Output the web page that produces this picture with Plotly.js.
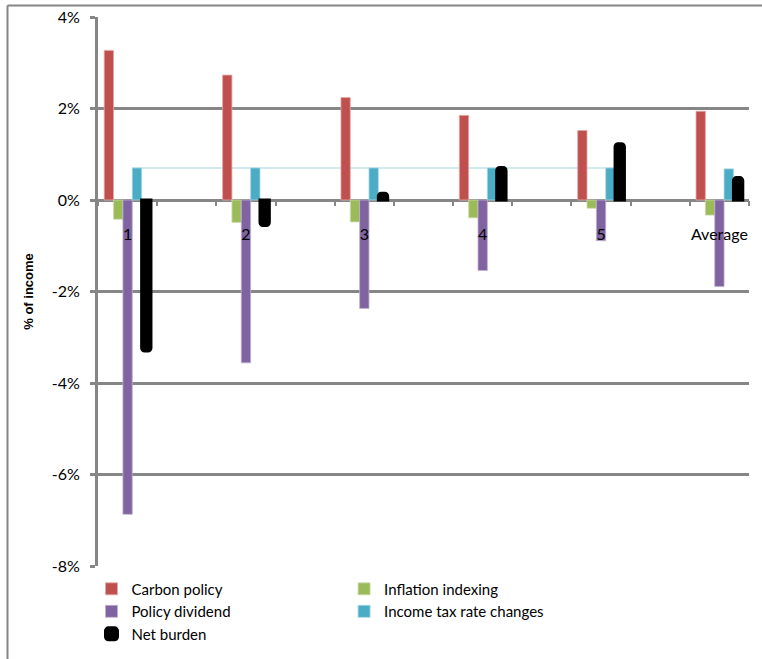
<!DOCTYPE html>
<html>
<head>
<meta charset="utf-8">
<script src="https://cdn.plot.ly/plotly-3.0.1.min.js"></script>
<style>
  html, body { margin: 0; padding: 0; background: #ffffff; }
  #chart { width: 762px; height: 659px; }
</style>
</head>
<body>
<div id="chart"></div>
<script>
// Income quintiles plus the average, each separated by an empty slot on the axis
const groups = ['1', '2', '3', '4', '5', 'Average'];
const slotLabels = ['1', ' ', '2', '  ', '3', '   ', '4', '    ', '5', '     ', 'Average'];

// Change in burden, % of income
const carbonPolicy      = [3.27, 2.73, 2.24, 1.85, 1.52, 1.94];
const inflationIndexing = [-0.42, -0.49, -0.48, -0.39, -0.18, -0.33];
const policyDividend    = [-6.87, -3.56, -2.37, -1.54, -0.89, -1.89];
const incomeTaxChanges  = [0.70, 0.70, 0.70, 0.70, 0.70, 0.68];
const netBurden         = [-3.30, -0.56, 0.15, 0.71, 1.23, 0.49];

const seriesNames = ['Carbon policy', 'Inflation indexing', 'Policy dividend',
                     'Income tax rate changes', 'Net burden'];
const seriesColors = ['#c0504d', '#9bbb59', '#8064a2', '#4bacc6', '#000000'];
const seriesEdges  = ['#e3a9a8', '#cddcab', '#c0b1d1', '#a5d5e2', '#000000'];
// legend column for each series (two columns under the plot)
const seriesLegend = ['legend', 'legend2', 'legend', 'legend2', 'legend'];

const yTickVals = [-8, -6, -4, -2, 0, 2, 4];
const yTickText = yTickVals.map(v => String(v) + '%');
const yRange = [-8, 4];

const FONT = 'Lato, "Open Sans", sans-serif';
const GRID = '#868686';
const BARGAP = 0.21;

const seriesValues = [carbonPolicy, inflationIndexing, policyDividend, incomeTaxChanges, netBurden];

const traces = seriesValues.map((vals, i) => {
  const isNet = i === 4;
  return {
    type: 'bar',
    name: seriesNames[i],
    x: groups,
    y: vals,
    legend: seriesLegend[i],
    marker: {
      color: seriesColors[i],
      line: { color: seriesEdges[i], width: isNet ? 3 : 0.8 },
      cornerradius: isNet ? 3 : 0
    },
    hoverinfo: 'name+y'
  };
});

// thin guide joining the income-tax bars of groups 1 to 5
const groupWidth = 1 - BARGAP;
const barWidth = groupWidth / seriesValues.length;
const taxLeft = -groupWidth / 2 + 3 * barWidth;
const taxRight = taxLeft + barWidth;
const guide = {
  type: 'line', xref: 'x', yref: 'y', layer: 'below',
  x0: slotLabels.indexOf('1') + taxLeft,
  x1: slotLabels.indexOf('5') + taxRight,
  y0: incomeTaxChanges[0], y1: incomeTaxChanges[0],
  line: { color: '#d2e9f0', width: 2 }
};

// outer frame lines
const frameLeft = {
  type: 'line', xref: 'paper', yref: 'paper',
  x0: -0.139, x1: -0.139, y0: -0.3, y1: 1.021,
  line: { color: GRID, width: 2 }
};
const frameTop = {
  type: 'line', xref: 'paper', yref: 'paper',
  x0: -0.139, x1: 1.1, y0: 1.021, y1: 1.021,
  line: { color: GRID, width: 2 }
};

const legendBase = {
  orientation: 'v',
  xanchor: 'left',
  y: -0.012,
  yanchor: 'top',
  font: { family: FONT, size: 15, color: '#000000' },
  bgcolor: 'rgba(0,0,0,0)',
  traceorder: 'normal'
};

const layout = {
  width: 762,
  height: 659,
  margin: { l: 98, r: 13, t: 17, b: 93, autoexpand: false },
  paper_bgcolor: '#ffffff',
  plot_bgcolor: '#ffffff',
  font: { family: FONT, size: 16, color: '#000000' },
  barmode: 'group',
  bargap: BARGAP,
  bargroupgap: 0,
  showlegend: true,
  xaxis: {
    type: 'category',
    categoryorder: 'array',
    categoryarray: slotLabels,
    range: [-0.5, slotLabels.length - 0.5],
    anchor: 'free',
    position: (0 - yRange[0]) / (yRange[1] - yRange[0]),
    ticks: 'outside',
    tickson: 'boundaries',
    ticklen: 5,
    tickwidth: 2,
    tickcolor: GRID,
    tickangle: 0,
    ticklabelstandoff: 23,
    showgrid: false,
    showline: false,
    zeroline: false,
    automargin: false,
    tickfont: { family: FONT, size: 16, color: '#000000' },
    fixedrange: true
  },
  yaxis: {
    range: yRange,
    tickmode: 'array',
    tickvals: yTickVals,
    ticktext: yTickText,
    ticks: 'outside',
    ticklen: 5,
    tickwidth: 3,
    tickcolor: GRID,
    ticklabelstandoff: 7,
    showgrid: true,
    gridcolor: GRID,
    gridwidth: 3,
    zeroline: true,
    zerolinecolor: GRID,
    zerolinewidth: 3,
    showline: true,
    linecolor: GRID,
    linewidth: 3,
    tickfont: { family: FONT, size: 16, color: '#000000' },
    title: {
      text: '% of income',
      font: { family: 'Liberation Sans, Arial, sans-serif', size: 13, color: '#000000', weight: 'bold' },
      standoff: 16
    },
    automargin: false,
    fixedrange: true
  },
  legend: Object.assign({}, legendBase, { x: -0.01 }),
  legend2: Object.assign({}, legendBase, { x: 0.378 }),
  shapes: [guide, frameLeft, frameTop]
};

Plotly.newPlot('chart', traces, layout, { displayModeBar: false, staticPlot: true });
</script>
</body>
</html>
